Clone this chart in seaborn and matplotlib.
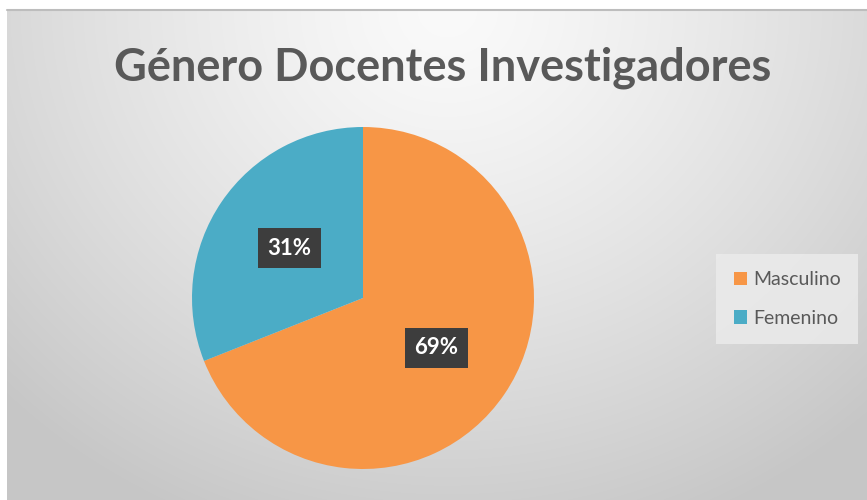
import numpy as np
import matplotlib
matplotlib.use("Agg")
import matplotlib.pyplot as plt
import seaborn as sns
from matplotlib.patches import Patch

# data
categories = ["Masculino", "Femenino"]
values = [69, 31]
colors = ["#F79646", "#4BACC6"]
title = "Género Docentes Investigadores"

sns.set_style("white")
plt.rcParams['font.family'] = ['Lato', 'DejaVu Sans']

W, H = 867, 500
fig = plt.figure(figsize=(W / 100, H / 100), dpi=100)
fig.patch.set_facecolor("white")

# chart area background: radial gray gradient
bg = fig.add_axes([7 / W, 0, (W - 7) / W, (H - 10) / H])
yy, xx = np.mgrid[0:490, 0:860]
d = np.sqrt(((xx - 440) / 620.0) ** 2 + ((yy - 0) / 560.0) ** 2)
d = np.clip(d, 0, 1)
shade = (250 - 52 * d ** 1.3) / 255.0
bg.imshow(np.dstack([shade, shade, shade]), aspect="auto", extent=[0, 1, 0, 1])
bg.set_xlim(0, 1)
bg.set_ylim(0, 1)
bg.axis("off")
fig.add_artist(plt.Line2D([7 / W, 1], [(H - 10) / H, (H - 10) / H], color="#bdbdbd", lw=1.5))

# pie
cx, cy, r = 363, 298, 171
ax = fig.add_axes([(cx - r) / W, (H - cy - r) / H, 2 * r / W, 2 * r / H])
wedges, texts, autotexts = ax.pie(values, colors=colors, startangle=90, counterclock=False,
                                  autopct="%1.0f%%", pctdistance=0.52,
                                  wedgeprops=dict(linewidth=0))
for t in autotexts:
    t.set_color("white")
    t.set_fontsize(16)
    t.set_fontweight("bold")
    t.set_bbox(dict(boxstyle="square,pad=0.42", facecolor="#3d3d3d", edgecolor="none"))
ax.set_xlim(-1, 1)
ax.set_ylim(-1, 1)
ax.axis("off")

fig.text(443 / W, 1 - 68 / H, title, ha="center", va="center",
         fontsize=32.5, fontweight="bold", color="#595959")

handles = [Patch(facecolor=c, edgecolor="none", label=l) for c, l in zip(colors, categories)]
leg = fig.legend(handles=handles, loc="center left", bbox_to_anchor=(716 / W, 1 - 299 / H),
                 frameon=True, fontsize=14, labelcolor="#595959", handlelength=0.7,
                 handleheight=0.7, handletextpad=0.3, labelspacing=1.1, borderpad=0.9,
                 borderaxespad=0, fancybox=False)
leg.get_frame().set_facecolor("#ebebeb")
leg.get_frame().set_edgecolor("none")
leg.get_frame().set_alpha(0.85)

fig.savefig("out.png", dpi=100)
